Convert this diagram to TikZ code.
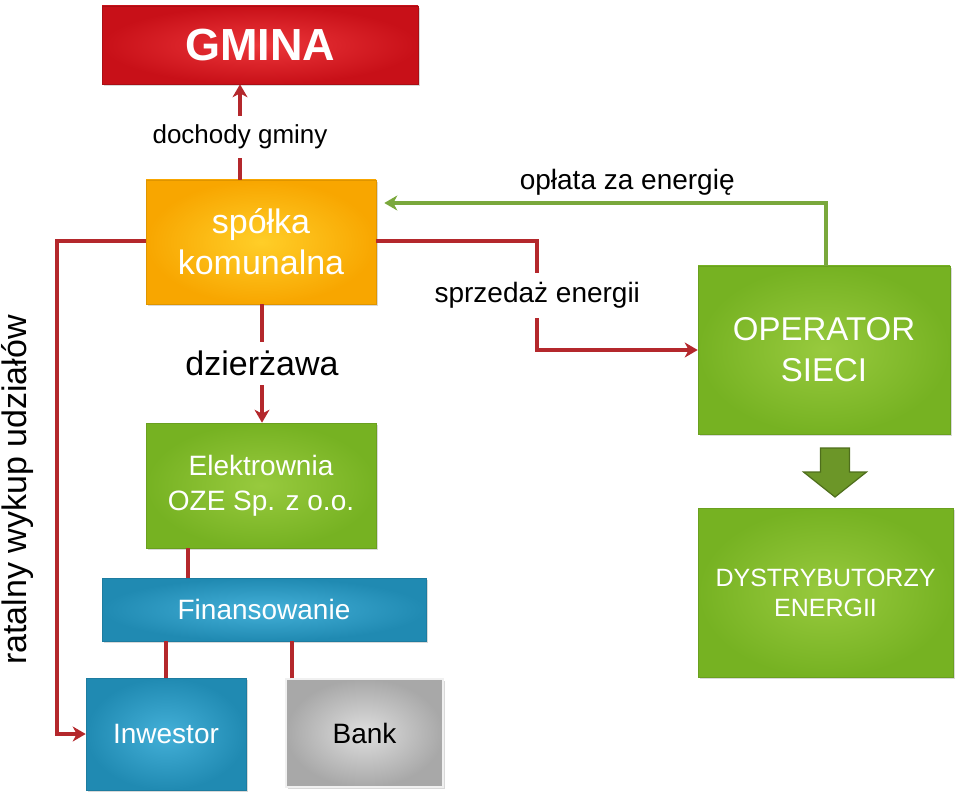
\documentclass[tikz,border=0pt]{standalone}
\usepackage{fontspec}
\setmainfont{Liberation Sans}
\usetikzlibrary{arrows.meta, shadows}

\definecolor{gminaout}{RGB}{200,16,24}
\definecolor{gminain}{RGB}{236,54,58}
\definecolor{orangeout}{RGB}{248,166,0}
\definecolor{orangein}{RGB}{255,206,40}
\definecolor{greenout}{RGB}{118,178,34}
\definecolor{greenin}{RGB}{152,202,62}
\definecolor{blueout}{RGB}{32,138,178}
\definecolor{bluein}{RGB}{68,176,216}
\definecolor{grayout}{RGB}{168,168,168}
\definecolor{grayin}{RGB}{222,222,222}
\definecolor{redline}{RGB}{180,40,44}
\definecolor{greenline}{RGB}{122,168,60}
\definecolor{arrowfill}{RGB}{108,150,40}
\definecolor{arrowdraw}{RGB}{78,110,28}

\tikzset{
  box/.style={rectangle, inner sep=0pt, align=center, text=white,
    drop shadow={shadow xshift=1.5pt, shadow yshift=-2pt, opacity=0.3}},
  gminabox/.style={box, inner color=gminain, outer color=gminaout, draw=gminaout!85!black, line width=0.6pt},
  orangebox/.style={box, inner color=orangein, outer color=orangeout, draw=orangeout!90!black, line width=0.6pt},
  greenbox/.style={box, inner color=greenin, outer color=greenout, draw=greenout!90!black, line width=0.6pt},
  bluebox/.style={box, inner color=bluein, outer color=blueout, draw=blueout!90!black, line width=0.6pt},
  graybox/.style={box, inner color=grayin, outer color=grayout, draw=white!94!black, line width=1.5pt, text=black},
  redarrow/.style={draw=redline, line width=4pt},
  greenarrow/.style={draw=greenline, line width=3.5pt},
  tip/.style={-{Stealth[length=13pt, width=15pt, inset=4pt]}},
  lbl/.style={fill=white, text=black, inner xsep=4pt, inner ysep=9pt},
  blockarrow/.style={fill=arrowfill, draw=arrowdraw, line width=1.2pt, line join=miter}
}

\begin{document}
\begin{tikzpicture}[x=1pt, y=-1pt]
\useasboundingbox (0,0) rectangle (960,799);

%left column
\node[gminabox, minimum width=316pt, minimum height=78pt, font=\bfseries\fontsize{45}{50}\selectfont] (gmina) at (260,45) {GMINA};
\node[orangebox, minimum width=230pt, minimum height=124pt, font=\fontsize{34}{41}\selectfont] (spolka) at (261,242) {spółka\\komunalna};
\node[greenbox, minimum width=230pt, minimum height=125pt, font=\fontsize{28}{35}\selectfont] (elektr) at (261,485.5) {Elektrownia\\OZE Sp. z o.o.};
\node[bluebox, minimum width=324pt, minimum height=63pt, font=\fontsize{28}{34}\selectfont] (finans) at (264,609.5) {Finansowanie};
\node[bluebox, minimum width=160pt, minimum height=112pt, font=\fontsize{28}{34}\selectfont] (inwestor) at (166,734) {Inwestor};
\node[graybox, minimum width=157pt, minimum height=108pt, font=\fontsize{28}{34}\selectfont] (bank) at (364.5,733) {Bank};

%right column
\node[greenbox, minimum width=252pt, minimum height=168pt, font=\fontsize{33}{41}\selectfont] (operator) at (824,350) {OPERATOR\\SIECI};
\node[greenbox, minimum width=255pt, minimum height=169pt, font=\fontsize{25}{30}\selectfont] (dystr) at (825.5,592.5) {DYSTRYBUTORZY\\ENERGII};

%rotated label
\node[rotate=90, font=\fontsize{34}{40}\selectfont] (ratalny) at (18,490) {ratalny wykup udziałów};

%connectors
\draw[redarrow, tip] ([xshift=-21pt]spolka.north) -- node[lbl, font=\fontsize{26}{30}\selectfont, pos=0.45] (dochody) {dochody gminy} ([xshift=-20pt]gmina.south);
\draw[redarrow, tip] ([xshift=1pt]spolka.south) -- node[lbl, font=\fontsize{34}{40}\selectfont] (dzierzawa) {dzierżawa} ([xshift=1pt]elektr.north);
\draw[redarrow, tip] ([yshift=1pt]spolka.east) -- ++(161,0) |- node[lbl, pos=0.25, font=\fontsize{28}{32}\selectfont, inner xsep=2pt] (sprzedaz) {sprzedaż energii} (operator.west);
\draw[greenarrow, tip] ([xshift=2pt]operator.north) |- node[pos=0.725, above=3pt, font=\fontsize{28}{32}\selectfont] (oplata) {opłata za energię} ([shift={(8pt,39pt)}]spolka.east);
\draw[redarrow, tip] ([yshift=1pt]spolka.west) -- ++(-89,0) |- (inwestor.west);

\coordinate (e1) at ([xshift=-73pt]elektr.south);
\draw[redarrow] (e1) -- (e1 |- finans.north);
\draw[redarrow] (inwestor.north) -- (inwestor.north |- finans.south);
\coordinate (b1) at ([xshift=-72.5pt]bank.north);
\draw[redarrow] (b1) -- (b1 |- finans.south);

%block arrow
\coordinate (pijl) at (835,448);
\draw[blockarrow] (pijl) ++(-14.5,0) -- ++(29,0) -- ++(0,24) -- ++(17,0) -- ++(-31.5,25) -- ++(-31.5,-25) -- ++(17,0) -- cycle;

\end{tikzpicture}
\end{document}
